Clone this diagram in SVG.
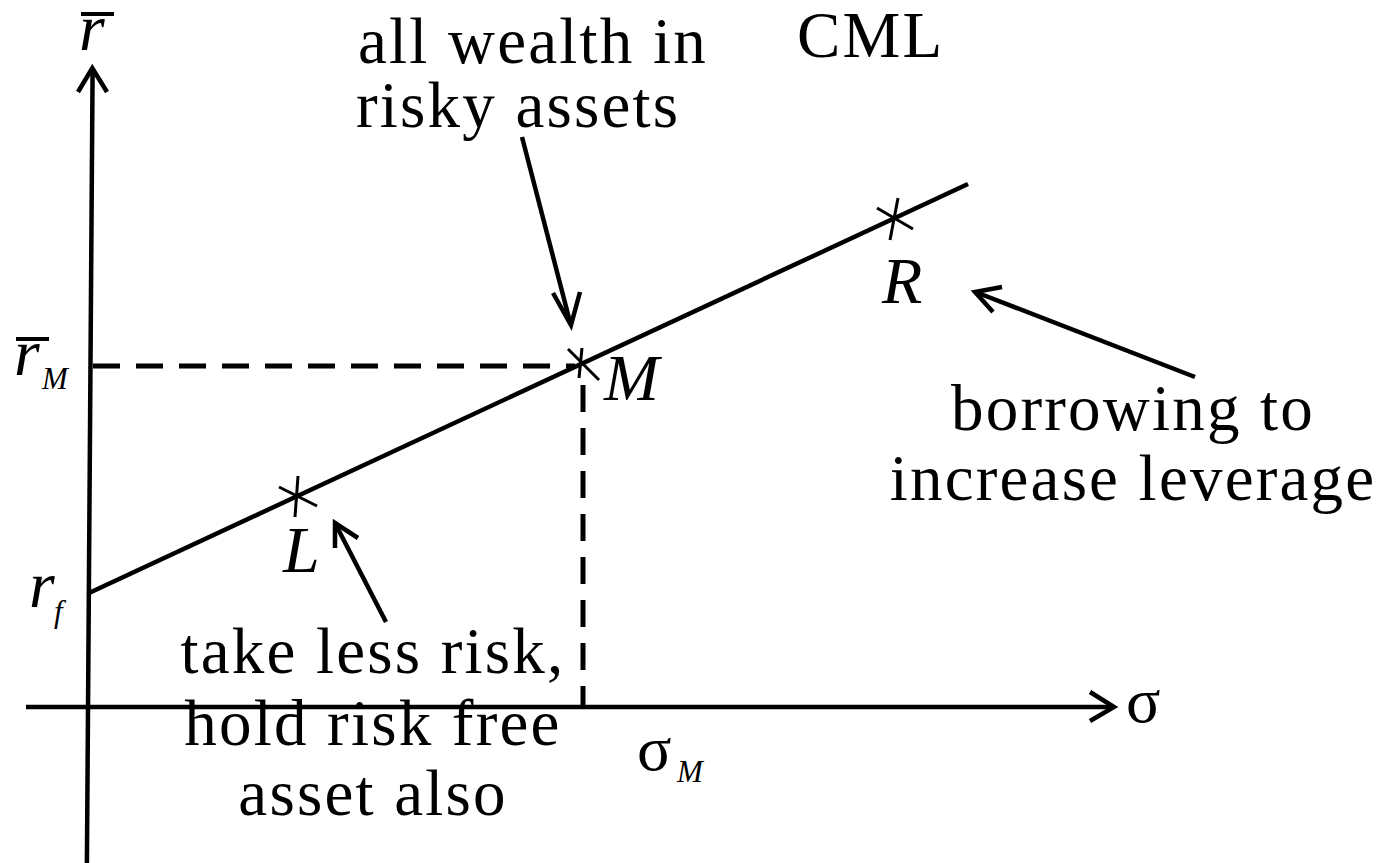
<svg xmlns="http://www.w3.org/2000/svg" width="1383" height="863" viewBox="0 0 1383 863">
<style>
.ln{stroke:#000;stroke-width:4.5;fill:none;stroke-linecap:butt}
.ah{stroke:#000;stroke-width:4.5;fill:none;stroke-linejoin:miter}
.mk{stroke:#000;stroke-width:3;fill:none}
.dash{stroke:#000;stroke-width:5;fill:none;stroke-dasharray:27 16}
.t{font-family:"Liberation Serif","Times New Roman",serif;font-size:65px;letter-spacing:2.2px;fill:#000}
.i{font-family:"Liberation Serif","Times New Roman",serif;font-size:66px;font-style:italic;fill:#000}
.s{font-family:"Liberation Serif","Times New Roman",serif;font-size:31px;font-style:italic;fill:#000}
.g{font-family:"Liberation Serif","Times New Roman",serif;font-size:64px;fill:#000}
</style>
<rect width="1383" height="863" fill="#fff"/>
<g id="axes">
<line class="ln" x1="92.6" y1="70" x2="86.9" y2="863"/>
<polyline class="ah" points="78,92 92.3,68 107,92"/>
<line class="ln" x1="26" y1="707" x2="1112" y2="707"/>
<polyline class="ah" points="1090,692 1114,707 1090,721"/>
</g>
<g id="guides">
<line class="dash" x1="93" y1="366" x2="575" y2="366"/>
<line class="dash" x1="583" y1="385" x2="583" y2="706"/>
</g>
<g id="cml">
<line class="ln" x1="89" y1="593" x2="968" y2="184"/>
</g>
<g id="node-L">
<line class="mk" x1="298" y1="476" x2="295" y2="517"/>
<line class="mk" x1="279" y1="487" x2="317" y2="506"/>
<text class="i" x="283" y="572">L</text>
</g>
<g id="node-M">
<line class="mk" x1="582" y1="348" x2="579" y2="378"/>
<line class="mk" x1="568" y1="349" x2="599" y2="380"/>
<text class="i" x="604" y="400">M</text>
</g>
<g id="node-R">
<line class="mk" x1="898" y1="198" x2="890" y2="240"/>
<line class="mk" x1="877" y1="208" x2="913" y2="229"/>
<text class="i" x="882" y="303">R</text>
</g>
<g id="connectors">
<line class="ln" x1="522" y1="137" x2="570" y2="322"/>
<polyline class="ah" points="553,293 571,325 580,292"/>
<line class="ln" x1="1195" y1="377" x2="978" y2="293"/>
<polyline class="ah" points="1002,287 975,292 993,312"/>
<line class="ln" x1="386" y1="622" x2="337" y2="527"/>
<polyline class="ah" points="335,548 335,523 358,538"/>
</g>
<g id="labels">
<text class="i" x="79" y="50">r</text>
<line x1="81" y1="14" x2="114" y2="14" stroke="#000" stroke-width="4"/>
<text class="i" x="14" y="375">r</text>
<line x1="16" y1="339" x2="49" y2="339" stroke="#000" stroke-width="4"/>
<text class="s" x="42" y="389">M</text>
<text class="i" x="29" y="607">r</text>
<text class="s" x="54" y="622">f</text>
<text class="g" x="637" y="770">σ</text>
<text class="s" x="677" y="782">M</text>
<text class="g" x="1126" y="722">σ</text>
<text class="t" x="797" y="57">CML</text>
<text class="t" x="358" y="63">all wealth in</text>
<text class="t" x="356" y="127">risky assets</text>
<text class="t" x="1133" y="430" text-anchor="middle">borrowing to</text>
<text class="t" x="1133" y="500" text-anchor="middle">increase leverage</text>
<text class="t" x="373" y="673" text-anchor="middle">take less risk,</text>
<text class="t" x="373" y="745" text-anchor="middle">hold risk free</text>
<text class="t" x="373" y="815" text-anchor="middle">asset also</text>
</g>
</svg>
